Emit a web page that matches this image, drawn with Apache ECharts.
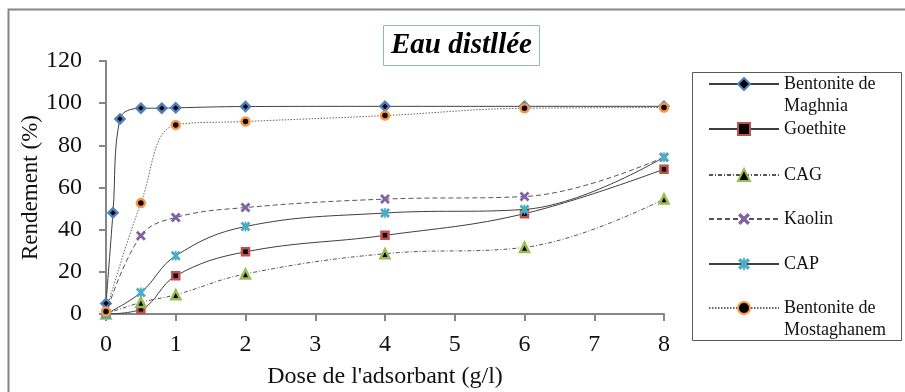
<!DOCTYPE html>
<html>
<head>
<meta charset="utf-8">
<script src="https://cdn.jsdelivr.net/npm/echarts@6/dist/echarts.min.js"></script>
<style>
html,body{margin:0;padding:0;background:#fff;}
#chart{width:905px;height:392px;}
</style>
</head>
<body>
<div id="chart"></div>
<script>
// ---- data ----
const titleText = 'Eau distllée';
const xAxisTitle = "Dose de l'adsorbant (g/l)";
const yAxisTitle = 'Rendement (%)';
const seriesNames = ['Bentonite de Maghnia', 'Goethite', 'CAG', 'Kaolin', 'CAP', 'Bentonite de Mostaghanem'];
const legendLabels = ['Bentonite de\nMaghnia', 'Goethite', 'CAG', 'Kaolin', 'CAP', 'Bentonite de\nMostaghanem'];

const xMaghnia = [0, 0.1, 0.2, 0.5, 0.8, 1, 2, 4, 6, 8];
const yMaghnia = [5, 48, 92.5, 97.6, 97.6, 97.8, 98.4, 98.5, 98.5, 98.5];

const xDose = [0, 0.5, 1, 2, 4, 6, 8];
const yGoethite = [0, 2.2, 18.1, 29.5, 37.3, 47.6, 68.7];
const yCAG = [0, 5.5, 9.1, 19, 28.6, 31.6, 54.5];
const yKaolin = [0, 37.1, 45.8, 50.5, 54.5, 55.7, 74.4];
const yCAP = [0, 10.2, 27.6, 41.5, 47.9, 49.6, 74.4];
const yMostaghanem = [1.2, 52.6, 89.7, 91.3, 94.1, 97.6, 97.9];

const xTicks = { min: 0, max: 8, interval: 1 };
const yTicks = { min: 0, max: 120, interval: 20 };

// ---- build ----
const pair = (xs, ys) => xs.map((x, i) => [x, ys[i]]);
const FONT = 'Liberation Serif';
const lineCol = '#3f3f3f';

const xMark = 'path://M0,2 L2,0 L5,3 L8,0 L10,2 L7,5 L10,8 L8,10 L5,7 L2,10 L0,8 L3,5 Z';
const starMark = 'path://M0,2 L2,0 L5,3 L8,0 L10,2 L7,5 L10,8 L8,10 L5,7 L2,10 L0,8 L3,5 Z M4.2,0 L5.8,0 L5.8,10 L4.2,10 Z';

const seriesDefs = [
  { data: pair(xMaghnia, yMaghnia), symbol: 'diamond', symbolSize: 9,
    itemStyle: { color: '#000', borderColor: '#4f81bd', borderWidth: 2.5 },
    lineStyle: { color: lineCol, width: 1, type: 'solid' } },
  { data: pair(xDose, yGoethite), symbol: 'rect', symbolSize: 7,
    itemStyle: { color: '#000', borderColor: '#c0504d', borderWidth: 2.5 },
    lineStyle: { color: lineCol, width: 1, type: 'solid' } },
  { data: pair(xDose, yCAG), symbol: 'triangle', symbolSize: 9,
    itemStyle: { color: '#000', borderColor: '#9bbb59', borderWidth: 2.5 },
    lineStyle: { color: '#555', width: 1, type: [4, 2, 1, 2] } },
  { data: pair(xDose, yKaolin), symbol: xMark, symbolSize: 10,
    itemStyle: { color: '#8064a2', borderWidth: 0 },
    lineStyle: { color: '#555', width: 1, type: [5, 3] } },
  { data: pair(xDose, yCAP), symbol: starMark, symbolSize: 10,
    itemStyle: { color: '#4bacc6', borderWidth: 0 },
    lineStyle: { color: lineCol, width: 1, type: 'solid' } },
  { data: pair(xDose, yMostaghanem), symbol: 'circle', symbolSize: 8,
    itemStyle: { color: '#000', borderColor: '#f79646', borderWidth: 2.5 },
    lineStyle: { color: '#666', width: 1, type: [1.5, 1.5] } }
];

const series = seriesDefs.map((d, i) => Object.assign({
  type: 'line', name: seriesNames[i], smooth: 0.4, showSymbol: true,
  z: 2 + i, animation: false, emphasis: { disabled: true }
}, d));

const legendCenters = [84, 129, 175, 219, 264, 308];
const legends = seriesNames.map((n, i) => {
  const two = legendLabels[i].indexOf('\n') >= 0;
  return {
    show: true, orient: 'vertical', left: 708,
    top: legendCenters[i] - (two ? 33 : 11),
    padding: 0, itemWidth: 70, itemHeight: 15,
    selectedMode: false, data: [n],
    formatter: () => (two ? '\n' : '') + legendLabels[i],
    textStyle: { fontFamily: FONT, fontSize: 18, color: '#111', lineHeight: 22 }
  };
});

const chart = echarts.init(document.getElementById('chart'), null, { renderer: 'canvas' });
chart.setOption({
  animation: false,
  backgroundColor: '#fff',
  title: {
    text: titleText, left: 383, top: 25,
    padding: [5, 8, 5, 8],
    borderColor: '#95b3d7', borderWidth: 1,
    textStyle: { fontFamily: FONT, fontSize: 29, fontWeight: 'bold', fontStyle: 'italic', color: '#000', lineHeight: 31 }
  },
  legend: legends,
  grid: { left: 106, right: 905 - 664, top: 61, bottom: 392 - 314, containLabel: false, outerBoundsMode: 'none' },
  xAxis: {
    type: 'value', min: xTicks.min, max: xTicks.max, interval: xTicks.interval,
    name: xAxisTitle, nameLocation: 'middle', nameGap: 51, nameMoveOverlap: false,
    nameTextStyle: { fontFamily: FONT, fontSize: 24, color: '#111' },
    axisLine: { show: true, lineStyle: { color: '#868686', width: 2 } },
    axisTick: { show: true, inside: false, length: 7, lineStyle: { color: '#868686', width: 2 } },
    axisLabel: { fontFamily: FONT, fontSize: 24, color: '#111', margin: 19 },
    splitLine: { show: false }
  },
  yAxis: {
    type: 'value', min: yTicks.min, max: yTicks.max, interval: yTicks.interval,
    name: yAxisTitle, nameLocation: 'middle', nameGap: 64, nameRotate: 90, nameMoveOverlap: false,
    nameTextStyle: { fontFamily: FONT, fontSize: 23, color: '#111' },
    axisLine: { show: true, lineStyle: { color: '#868686', width: 2 } },
    axisTick: { show: true, inside: false, length: 7, lineStyle: { color: '#868686', width: 2 } },
    axisLabel: { fontFamily: FONT, fontSize: 24, color: '#111', margin: 24 },
    splitLine: { show: false }
  },
  graphic: [
    { type: 'rect', shape: { x: 8.5, y: 9.5, width: 1200, height: 1200 },
      style: { fill: 'none', stroke: '#868686', lineWidth: 2 }, silent: true, z: -1 },
    { type: 'rect', shape: { x: 692.5, y: 72.5, width: 209, height: 268 },
      style: { fill: 'none', stroke: '#595959', lineWidth: 1 }, silent: true, z: -1 }
  ],
  series: series
});
</script>
</body>
</html>
